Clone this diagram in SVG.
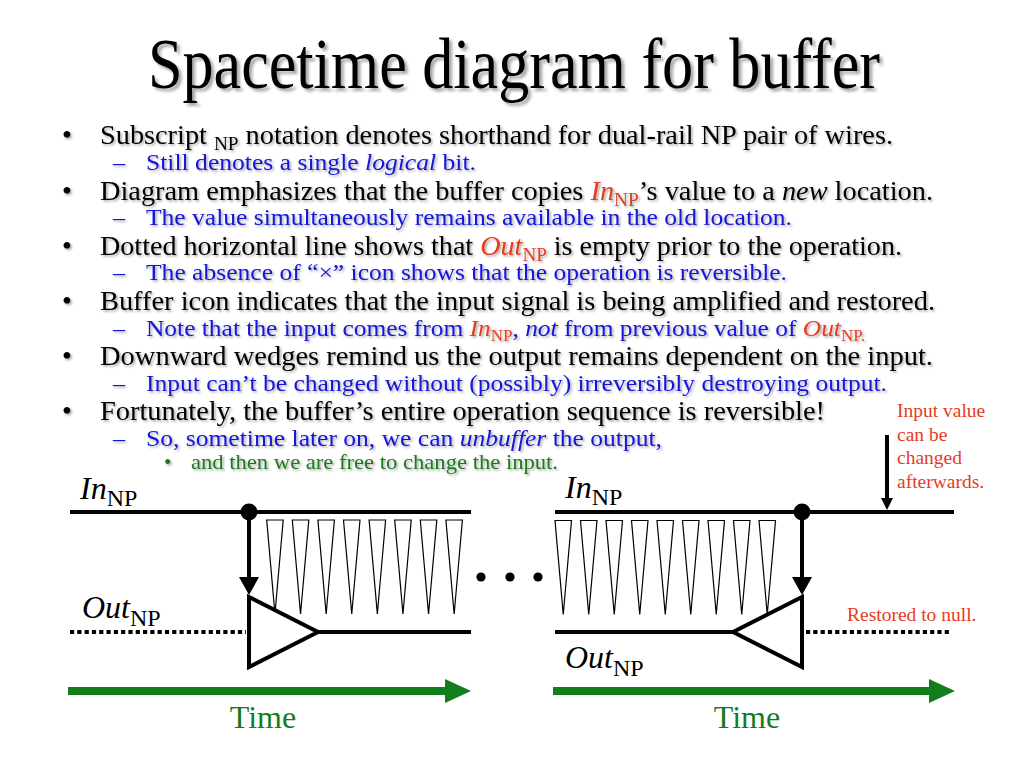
<svg xmlns="http://www.w3.org/2000/svg" xmlns:xlink="http://www.w3.org/1999/xlink" width="1024" height="768" viewBox="0 0 1024 768">
<defs>
<style>
text { font-family: "Liberation Serif", "Times New Roman", serif; }
.title { font-size: 72px; fill: #000; }
.b1 { font-size: 28px; fill: #000; }
.b2 { font-size: 24px; fill: #1515d8; }
.b3 { font-size: 21px; fill: #1f7a1f; }
.red { fill: #e63c1e; }
.it { font-style: italic; }
.s1 { font-size: 19px; }
.s2 { font-size: 16px; }
.lbl { font-size: 32px; fill: #000; }
.lsub { font-size: 24px; }
.note { font-size: 19.5px; fill: #e63c1e; }
.time { font-size: 32px; fill: #117e1b; }
.wire { stroke: #000; stroke-width: 4; fill: none; }
.dotted { stroke: #000; stroke-width: 4; stroke-dasharray: 4.2 3.1; fill: none; }
.buf { stroke: #000; stroke-width: 4; fill: #fff; stroke-linejoin: miter; }
.wedge { stroke: #000; stroke-width: 1.2; fill: #fff; }
.tarrow { stroke: #117e1b; stroke-width: 8; fill: none; }
</style>
<filter id="sh" x="-5%" y="-30%" width="110%" height="160%">
<feDropShadow dx="1.6" dy="1.6" stdDeviation="0.9" flood-color="#000" flood-opacity="0.35"/>
</filter>
<filter id="shT" x="-5%" y="-30%" width="110%" height="160%">
<feDropShadow dx="3" dy="3" stdDeviation="1.5" flood-color="#000" flood-opacity="0.35"/>
</filter>
<marker id="downHead" markerUnits="userSpaceOnUse" markerWidth="20" markerHeight="22" viewBox="0 -11 20 22" refX="0" refY="0" orient="auto">
<path d="M0,-10 L18,0 L0,10 Z" fill="#000"/>
</marker>
<marker id="smallHead" markerUnits="userSpaceOnUse" markerWidth="14" markerHeight="14" viewBox="0 -7 14 14" refX="0" refY="0" orient="auto">
<path d="M0,-6 L12,0 L0,6 Z" fill="#000"/>
</marker>
<marker id="timeHead" markerUnits="userSpaceOnUse" markerWidth="28" markerHeight="26" viewBox="0 -13 28 26" refX="0" refY="0" orient="auto">
<path d="M0,-12 L26,0 L0,12 Z" fill="#117e1b"/>
</marker>
<polygon id="wedge" class="wedge" points="0,0 16.5,0 8.25,94"/>
</defs>
<rect width="1024" height="768" fill="#fff"/>

<g id="title" filter="url(#shT)">
<text class="title" x="148" y="88" textLength="732" lengthAdjust="spacingAndGlyphs">Spacetime diagram for buffer</text>
</g>

<g id="bullets">
<g filter="url(#sh)">
<text class="b1" x="62" y="144">•</text>
<text class="b1" x="100" y="144" textLength="793" lengthAdjust="spacingAndGlyphs">Subscript <tspan class="s1" dy="6">NP</tspan><tspan dy="-6"> notation denotes shorthand for dual-rail NP pair of wires.</tspan></text>
<text class="b2" x="113" y="170">–</text>
<text class="b2" x="146" y="170" textLength="330" lengthAdjust="spacingAndGlyphs">Still denotes a single <tspan class="it">logical</tspan> bit.</text>

<text class="b1" x="62" y="200">•</text>
<text class="b1" x="100" y="200" textLength="833" lengthAdjust="spacingAndGlyphs">Diagram emphasizes that the buffer copies <tspan class="red it">In</tspan><tspan class="red s1" dy="6">NP</tspan><tspan dy="-6">’s value to a </tspan><tspan class="it">new</tspan> location.</text>
<text class="b2" x="113" y="225">–</text>
<text class="b2" x="146" y="225" textLength="646" lengthAdjust="spacingAndGlyphs">The value simultaneously remains available in the old location.</text>

<text class="b1" x="62" y="255">•</text>
<text class="b1" x="100" y="255" textLength="802" lengthAdjust="spacingAndGlyphs">Dotted horizontal line shows that <tspan class="red it">Out</tspan><tspan class="red s1" dy="6">NP</tspan><tspan dy="-6"> is empty prior to the operation.</tspan></text>
<text class="b2" x="113" y="280">–</text>
<text class="b2" x="146" y="280" textLength="641" lengthAdjust="spacingAndGlyphs">The absence of “×” icon shows that the operation is reversible.</text>

<text class="b1" x="62" y="310">•</text>
<text class="b1" x="100" y="310" textLength="835" lengthAdjust="spacingAndGlyphs">Buffer icon indicates that the input signal is being amplified and restored.</text>
<text class="b2" x="113" y="336">–</text>
<text class="b2" x="146" y="336" textLength="719" lengthAdjust="spacingAndGlyphs">Note that the input comes from <tspan class="red it">In</tspan><tspan class="red s2" dy="5">NP</tspan><tspan dy="-5">, </tspan><tspan class="it">not</tspan> from previous value of <tspan class="red it">Out</tspan><tspan class="red s2" dy="5">NP.</tspan></text>

<text class="b1" x="62" y="365">•</text>
<text class="b1" x="100" y="365" textLength="833" lengthAdjust="spacingAndGlyphs">Downward wedges remind us the output remains dependent on the input.</text>
<text class="b2" x="113" y="391">–</text>
<text class="b2" x="146" y="391" textLength="741" lengthAdjust="spacingAndGlyphs">Input can’t be changed without (possibly) irreversibly destroying output.</text>

<text class="b1" x="62" y="420">•</text>
<text class="b1" x="100" y="420" textLength="725" lengthAdjust="spacingAndGlyphs">Fortunately, the buffer’s entire operation sequence is reversible!</text>
<text class="b2" x="113" y="446">–</text>
<text class="b2" x="146" y="446" textLength="516" lengthAdjust="spacingAndGlyphs">So, sometime later on, we can <tspan class="it">unbuffer</tspan> the output,</text>

<text class="b3" x="164" y="469">•</text>
<text class="b3" x="191" y="469" textLength="367" lengthAdjust="spacingAndGlyphs">and then we are free to change the input.</text>
</g>
</g>

<g id="left-diagram">
<g id="left-in-wire">
<line class="wire" x1="70" y1="512" x2="471" y2="512"/>
<text class="lbl" x="80" y="499"><tspan class="it">In</tspan><tspan class="lsub" dy="7">NP</tspan></text>
</g>
<g id="left-wedges">
<use xlink:href="#wedge" href="#wedge" x="266.7" y="520"/>
<use xlink:href="#wedge" href="#wedge" x="292.3" y="520"/>
<use xlink:href="#wedge" href="#wedge" x="317.9" y="520"/>
<use xlink:href="#wedge" href="#wedge" x="343.5" y="520"/>
<use xlink:href="#wedge" href="#wedge" x="369.1" y="520"/>
<use xlink:href="#wedge" href="#wedge" x="394.7" y="520"/>
<use xlink:href="#wedge" href="#wedge" x="420.3" y="520"/>
<use xlink:href="#wedge" href="#wedge" x="445.9" y="520"/>
</g>
<g id="left-out-wire">
<line class="dotted" x1="70" y1="632" x2="246" y2="632"/>
<line class="wire" x1="318" y1="632" x2="471" y2="632"/>
<text class="lbl" x="82" y="618"><tspan class="it">Out</tspan><tspan class="lsub" dy="8">NP</tspan></text>
</g>
<g id="left-buffer">
<polygon class="buf" points="249,597 249,667 318,632"/>
</g>
<circle id="left-dot" cx="249" cy="512" r="8.5" fill="#000"/>
</g>

<g id="ellipsis">
<circle cx="481" cy="577" r="4.6" fill="#000"/>
<circle cx="510" cy="577" r="4.6" fill="#000"/>
<circle cx="538" cy="577" r="4.6" fill="#000"/>
</g>

<g id="right-diagram">
<g id="right-in-wire">
<line class="wire" x1="555" y1="512" x2="954" y2="512"/>
<text class="lbl" x="565" y="498"><tspan class="it">In</tspan><tspan class="lsub" dy="7">NP</tspan></text>
</g>
<g id="right-wedges">
<use xlink:href="#wedge" href="#wedge" x="555" y="520.5"/>
<use xlink:href="#wedge" href="#wedge" x="580.5" y="520.5"/>
<use xlink:href="#wedge" href="#wedge" x="606" y="520.5"/>
<use xlink:href="#wedge" href="#wedge" x="631.5" y="520.5"/>
<use xlink:href="#wedge" href="#wedge" x="657" y="520.5"/>
<use xlink:href="#wedge" href="#wedge" x="682.5" y="520.5"/>
<use xlink:href="#wedge" href="#wedge" x="708" y="520.5"/>
<use xlink:href="#wedge" href="#wedge" x="733.5" y="520.5"/>
<use xlink:href="#wedge" href="#wedge" x="759" y="520.5"/>
</g>
<g id="right-out-wire">
<line class="wire" x1="555" y1="632" x2="733" y2="632"/>
<line class="dotted" x1="806" y1="632" x2="950" y2="632"/>
<text class="lbl" x="565" y="668"><tspan class="it">Out</tspan><tspan class="lsub" dy="8">NP</tspan></text>
</g>
<g id="right-buffer">
<polygon class="buf" points="802,597 802,667 733,632"/>
</g>
<circle id="right-dot" cx="802" cy="512" r="8.5" fill="#000"/>
<g id="right-notes">
<text class="note" x="897" y="417">Input value</text>
<text class="note" x="897" y="441">can be</text>
<text class="note" x="897" y="464">changed</text>
<text class="note" x="897" y="488">afterwards.</text>
<text class="note" x="847" y="621">Restored to null.</text>
</g>
</g>

<g id="connectors">
<line class="wire" x1="249" y1="512" x2="249" y2="577" marker-end="url(#downHead)"/>
<line class="wire" x1="802" y1="512" x2="802" y2="577" marker-end="url(#downHead)"/>
<line class="wire" x1="887" y1="435" x2="887" y2="498" marker-end="url(#smallHead)"/>
<line class="tarrow" x1="68" y1="691" x2="445" y2="691" marker-end="url(#timeHead)"/>
<line class="tarrow" x1="553" y1="691" x2="929" y2="691" marker-end="url(#timeHead)"/>
</g>

<g id="time-labels">
<text class="time" x="263" y="728" text-anchor="middle">Time</text>
<text class="time" x="747" y="728" text-anchor="middle">Time</text>
</g>
</svg>
